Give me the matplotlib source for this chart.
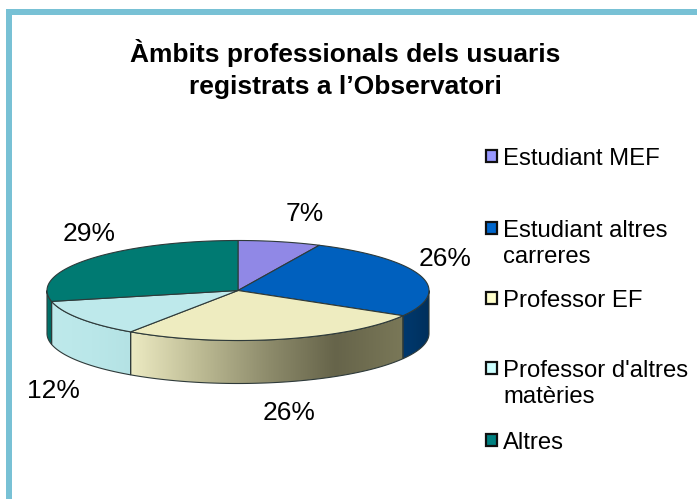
import numpy as np
import matplotlib
matplotlib.use("Agg")
import matplotlib.pyplot as plt
from matplotlib.patches import Polygon, Rectangle
from matplotlib.colors import LinearSegmentedColormap

plt.rcParams['font.family'] = ['Liberation Sans', 'DejaVu Sans']

title = "Àmbits professionals dels usuaris\nregistrats a l’Observatori"
categories = ["Estudiant MEF", "Estudiant altres\ncarreres", "Professor EF",
              "Professor d'altres\nmatèries", "Altres"]
values = [7, 26.4, 26.1, 12, 28.5]
labels = ["7%", "26%", "26%", "12%", "29%"]
top_colors = ["#9088E6", "#0060BE", "#EEECC0", "#BEE9EB", "#007A72"]
legend_colors = ["#9999FF", "#0066CC", "#FFFFCC", "#CCFFFF", "#008080"]
side_stops = [["#6A64A8", "#6A64A8"],
              ["#00386E", "#003566", "#002F5C"],
              ["#ECEAC2", "#BDBB94", "#8E8C6C", "#66644A", "#7A7858"],
              ["#BEE9EB", "#BAE7E9", "#B4E2E4"],
              ["#00786F", "#00625C"]]

W, H = 697, 499
fig = plt.figure(figsize=(W / 100, H / 100), dpi=100, facecolor="white")
ax = fig.add_axes([0, 0, 1, 1])
ax.set_xlim(0, W)
ax.set_ylim(H, 0)
ax.axis("off")
ax.set_autoscale_on(False)

border = "#78C1D5"
ax.add_patch(Rectangle((6, 9), 6, H - 9, fc=border, ec="none"))
ax.add_patch(Rectangle((6, 9), W - 6, 6, fc=border, ec="none"))

ax.text(345, 69, title, ha="center", va="center", fontsize=19,
        fontweight="bold", color="black", linespacing=1.37)

cx, cy, rx, ry, depth = 238, 290.5, 191, 50, 43
edge = "#2E3A3A"


def rim(a, b, dy=0.0, n=120):
    t = np.radians(np.linspace(a, b, n))
    return np.column_stack([cx + rx * np.sin(t), cy + dy + ry * np.cos(t) * -1])


fractions = np.array(values) / sum(values) * 360
starts = np.concatenate([[0], np.cumsum(fractions)[:-1]])
ends = np.cumsum(fractions)

# outer side walls (front half of the ellipse)
for a, b, stops in zip(starts, ends, side_stops):
    lo, hi = max(a, 90), min(b, 270)
    if hi <= lo:
        continue
    pts = np.vstack([rim(lo, hi), rim(hi, lo, depth)])
    poly = Polygon(pts, closed=True, fc="none", ec="none")
    ax.add_patch(poly)
    cmap = LinearSegmentedColormap.from_list("s", stops)
    x0, x1 = pts[:, 0].min(), pts[:, 0].max()
    y0, y1 = pts[:, 1].min(), pts[:, 1].max()
    grad = np.linspace(0, 1, 256)[None, :]
    im = ax.imshow(grad, extent=[x0, x1, y1, y0], cmap=cmap, aspect="auto",
                   interpolation="bilinear", zorder=2)
    im.set_clip_path(poly)
    ax.add_patch(Polygon(pts, closed=True, fc="none", ec=edge, lw=0.8, zorder=3))

# top faces
for a, b, c in zip(starts, ends, top_colors):
    pts = np.vstack([[cx, cy], rim(a, b)])
    ax.add_patch(Polygon(pts, closed=True, fc=c, ec=edge, lw=0.8, zorder=4))

# value labels
label_pos = [(305, 214), (445, 259), (289, 413), (53, 391), (89, 234)]
for (x, y), s in zip(label_pos, labels):
    ax.text(x, y, s, ha="center", va="center", fontsize=19, color="black", zorder=5)

# legend
legend_y = [156, 228, 298, 368, 440]
for y, name, c in zip(legend_y, categories, legend_colors):
    ax.add_patch(Rectangle((485.5, y - 6), 11.5, 11.5, fc=c, ec="#101010", lw=1.6, zorder=5))
    ax.text(503, y - 8, name, ha="left", va="top", fontsize=17.2, color="black",
            linespacing=1.24, zorder=5)

fig.savefig("out.png", dpi=100, facecolor="white")
